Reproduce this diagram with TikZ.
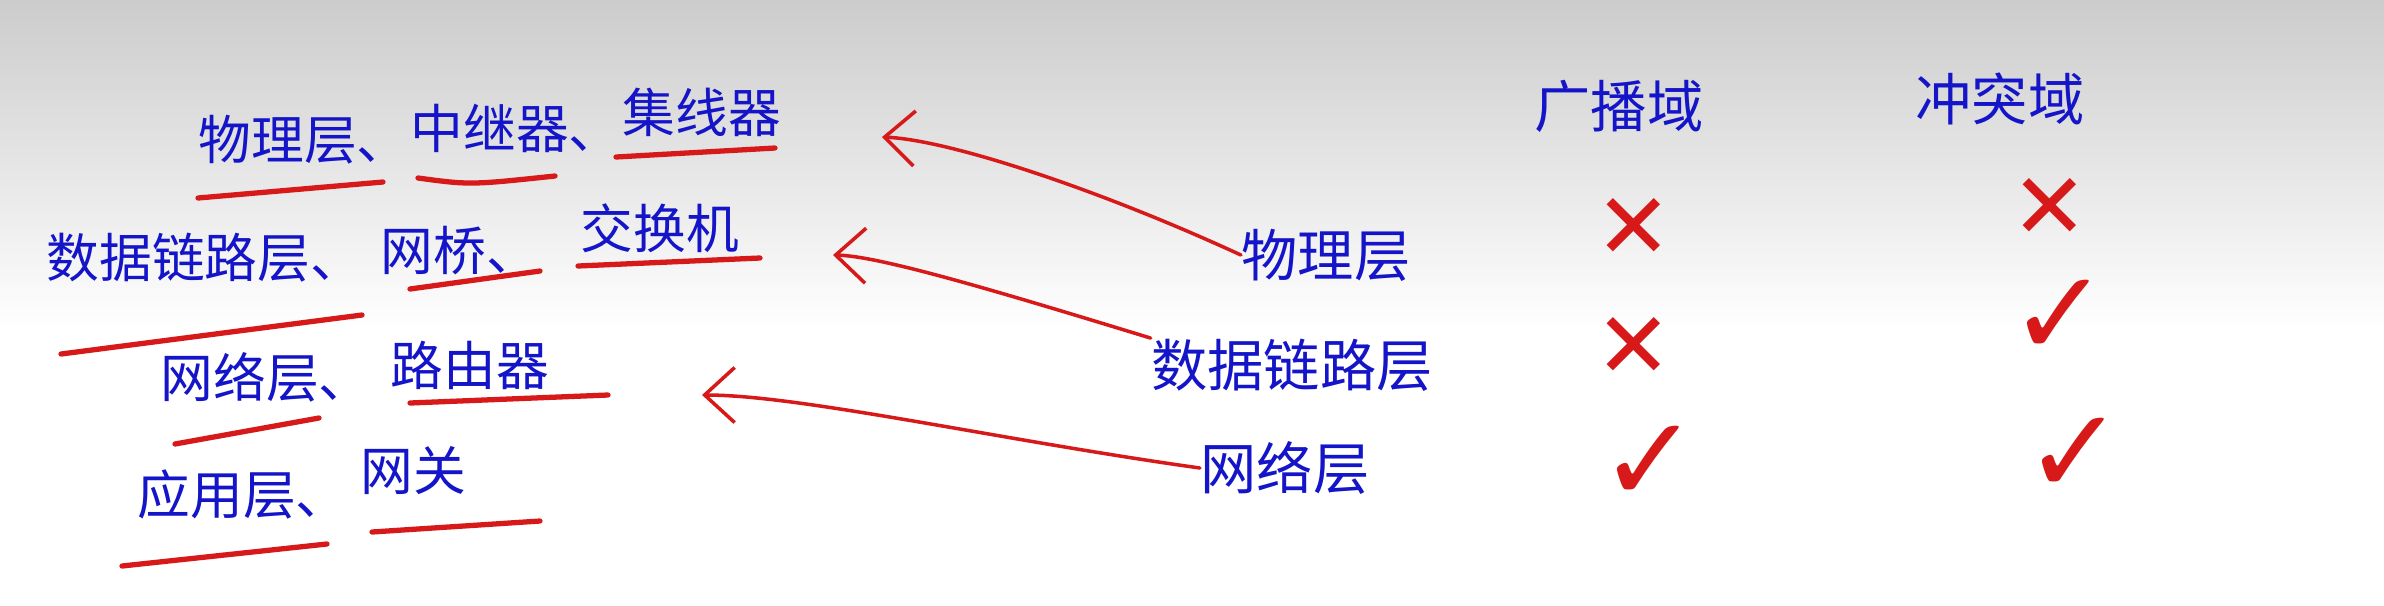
\documentclass[tikz,border=0pt]{standalone}
\usepackage{fontspec}
\newfontfamily\cjk{Noto Sans CJK SC}
\newfontfamily\symfont{DejaVu Sans}
\usetikzlibrary{arrows.meta,calc}
\definecolor{inkblue}{RGB}{20,20,200}
\definecolor{inkred}{RGB}{215,25,25}
\tikzset{
  note/.style={inkblue, font=\cjk\fontsize{15}{18}\selectfont, inner sep=0pt},
  side/.style={inkblue, font=\cjk\fontsize{16}{19}\selectfont, inner sep=0pt},
  uline/.style={inkred, line width=1.5pt, line cap=round},
  pointer/.style={inkred, line width=1pt, line cap=round, -{Straight Barb[length=3mm,width=5.5mm]}},
  tick/.style={inkred, font=\symfont\fontsize{34}{36}\selectfont, inner sep=0pt},
  cross/.style={inkred, font=\symfont\fontsize{26}{28}\selectfont, inner sep=0pt},
}
\begin{document}
\begin{tikzpicture}[x=0.01cm, y=-0.01cm]
        % Board
        \useasboundingbox (0,0) rectangle (2384,605);
        \shade[top color=black!20, bottom color=white] (0,0) rectangle (2384,330);
        \fill[white] (0,330) rectangle (2384,605);

        % Devices per layer
        \node[note, anchor=west] (phyA) at (198,140) {物理层、};
        \node[note, anchor=west] (phyB) at (410,128) {中继器、};
        \node[note, anchor=west] (phyC) at (622,112) {集线器};
        \node[note, anchor=west] (dllA) at (46,258) {数据链路层、};
        \node[note, anchor=west] (dllB) at (380,251) {网桥、};
        \node[note, anchor=west] (dllC) at (580,228) {交换机};
        \node[note, anchor=west] (netA) at (160,377) {网络层、};
        \node[note, anchor=west] (netB) at (390,365) {路由器};
        \node[note, anchor=west] (appA) at (137,494) {应用层、};
        \node[note, anchor=west] (appB) at (360,471) {网关};

        % Underlines
        \draw[uline] (198,198) -- (383,182);
        \draw[uline] (418,178) .. controls (470,185) .. (555,176);
        \draw[uline] (616,157) -- (775,148);
        \draw[uline] (61,354) -- (362,315);
        \draw[uline] (410,289) -- (540,271);
        \draw[uline] (578,266) -- (760,258);
        \draw[uline] (175,444) -- (319,418);
        \draw[uline] (410,403) -- (608,395);
        \draw[uline] (122,566) -- (327,544);
        \draw[uline] (372,532) -- (540,521);

        % Layers and domains
        \node[side] (phyR) at (1326,255) {物理层};
        \node[side] (dllR) at (1292,365) {数据链路层};
        \node[side] (netR) at (1285,468) {网络层};
        \node[side] (bcast) at (1619,106) {广播域};
        \node[side] (coll) at (2000,99) {冲突域};

        \node[cross] (phyBc) at (1634,228) {✕};
        \node[cross] (phyCo) at (2050,208) {✕};
        \node[cross] (dllBc) at (1634,347) {✕};
        \node[tick] (dllCo) at (2060,318) {✓};
        \node[tick] (netBc) at (1650,464) {✓};
        \node[tick] (netCo) at (2075,456) {✓};

        % Pointers back to the device list
        \coordinate (tipA) at (882,137);
        \coordinate (tipB) at (833,255);
        \coordinate (tipC) at (702,395);
        \draw[pointer] (phyR.west) .. controls (1100,190) and (950,140) .. (tipA);
        \draw[pointer] (dllR.north west) .. controls (1000,292) and (880,256) .. (tipB);
        \draw[pointer] (netR.west) .. controls (1000,440) and (800,395) .. (tipC);
\end{tikzpicture}
\end{document}
